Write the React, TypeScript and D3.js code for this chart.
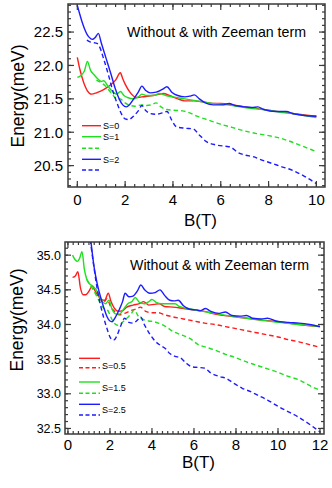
import React, { useRef, useEffect } from "react";
import * as d3 from "d3";

type Pt = [number, number];

// ---- top panel: B(T) vs Energy, S = 0, 1, 2 ----
const topS0: Pt[] = [
  [0, 22.12], [0.1, 21.95], [0.2, 21.82], [0.3, 21.71], [0.42, 21.62], [0.6, 21.57],
  [0.8, 21.59], [1.0, 21.62], [1.2, 21.66], [1.4, 21.71], [1.6, 21.78], [1.8, 21.89],
  [1.9, 21.8], [2.0, 21.72], [2.2, 21.6], [2.4, 21.53], [2.55, 21.52], [2.7, 21.53],
  [3.0, 21.54], [3.3, 21.56], [3.6, 21.58], [3.85, 21.55], [4.2, 21.5], [4.5, 21.47],
  [4.9, 21.47], [5.3, 21.45], [5.8, 21.43], [6.0, 21.43], [6.5, 21.41], [7, 21.38],
  [8, 21.33], [9, 21.28], [10, 21.24],
];
const topS1: Pt[] = [
  [0, 21.82], [0.15, 21.85], [0.3, 21.92], [0.42, 22.06], [0.55, 21.93], [0.7, 21.86],
  [0.85, 21.8], [1.0, 21.76], [1.1, 21.77], [1.3, 21.68], [1.5, 21.6], [1.65, 21.57],
  [1.8, 21.61], [1.95, 21.55], [2.1, 21.52], [2.35, 21.5], [2.55, 21.53], [2.7, 21.57],
  [2.9, 21.55], [3.2, 21.55], [3.45, 21.58], [3.7, 21.55], [4.0, 21.53], [4.5, 21.5],
  [5.0, 21.47], [5.5, 21.44], [6.0, 21.42], [6.5, 21.4], [7, 21.37], [7.5, 21.35],
  [8, 21.33], [8.5, 21.3], [9, 21.28], [9.5, 21.25], [10, 21.22],
];
const topS1Z: Pt[] = [
  [0.8, 21.78], [1.0, 21.74], [1.15, 21.7], [1.3, 21.64], [1.5, 21.55], [1.7, 21.49],
  [1.8, 21.5], [1.95, 21.45], [2.15, 21.41], [2.4, 21.39], [2.7, 21.41], [2.9, 21.4],
  [3.1, 21.41], [3.3, 21.44], [3.5, 21.38], [3.75, 21.34], [4.0, 21.33], [4.4, 21.32],
  [4.7, 21.29], [5.0, 21.24], [5.5, 21.18], [6.0, 21.12], [6.5, 21.07], [7, 21.02],
  [7.5, 20.98], [8, 20.95], [8.5, 20.91], [9, 20.85], [9.5, 20.78], [10, 20.71],
];
const topS2: Pt[] = [
  [0, 22.9], [0.1, 22.77], [0.2, 22.65], [0.3, 22.55], [0.4, 22.47], [0.5, 22.42],
  [0.62, 22.39], [0.75, 22.42], [0.88, 22.48], [1.0, 22.34], [1.2, 22.11], [1.4, 21.88],
  [1.6, 21.64], [1.75, 21.5], [1.9, 21.41], [2.05, 21.38], [2.2, 21.42], [2.4, 21.52],
  [2.55, 21.6], [2.7, 21.69], [2.85, 21.63], [3.05, 21.59], [3.3, 21.6], [3.55, 21.64],
  [3.75, 21.68], [3.95, 21.6], [4.2, 21.55], [4.5, 21.53], [4.7, 21.54], [4.9, 21.56],
  [5.1, 21.5], [5.35, 21.44], [5.7, 21.41], [6.1, 21.41], [6.35, 21.43], [6.6, 21.4],
  [7.0, 21.38], [7.3, 21.37], [7.55, 21.38], [7.8, 21.34], [8.3, 21.31], [8.75, 21.31],
  [9.0, 21.28], [9.5, 21.25], [10, 21.24],
];
const topS2Z: Pt[] = [
  [0.4, 22.38], [0.55, 22.35], [0.7, 22.34], [0.82, 22.33], [0.9, 22.3], [1.1, 22.1],
  [1.3, 21.86], [1.5, 21.6], [1.7, 21.4], [1.85, 21.27], [2.0, 21.2], [2.15, 21.19],
  [2.35, 21.24], [2.55, 21.32], [2.7, 21.4], [2.85, 21.33], [3.05, 21.28], [3.3, 21.27],
  [3.55, 21.29], [3.75, 21.31], [3.95, 21.18], [4.15, 21.08], [4.5, 21.06], [4.85, 21.05],
  [5.1, 20.96], [5.4, 20.86], [5.8, 20.81], [6.2, 20.79], [6.4, 20.78], [6.7, 20.7],
  [7.0, 20.66], [7.4, 20.63], [7.6, 20.6], [8.0, 20.55], [8.5, 20.49], [9.0, 20.43],
  [9.5, 20.34], [10, 20.23],
];

// ---- bottom panel: S = 0.5, 1.5, 2.5 ----
const botS05: Pt[] = [
  [0.22, 34.68], [0.35, 34.7], [0.47, 34.76], [0.6, 34.52], [0.72, 34.43], [0.85, 34.43],
  [1.0, 34.48], [1.15, 34.55], [1.3, 34.48], [1.45, 34.41], [1.6, 34.36], [1.75, 34.35],
  [1.92, 34.45], [2.05, 34.33], [2.2, 34.24], [2.4, 34.19], [2.6, 34.2], [2.8, 34.25],
  [3.1, 34.28], [3.4, 34.3], [3.6, 34.33], [3.85, 34.28], [4.1, 34.29], [4.35, 34.3],
  [4.6, 34.26], [5.0, 34.25], [5.5, 34.23], [6.0, 34.21], [6.5, 34.19], [7, 34.15],
  [8, 34.11], [9, 34.07], [10, 34.04], [11, 34.0], [12, 33.97],
];
const botS05Z: Pt[] = [
  [1.5, 34.39], [1.7, 34.32], [1.85, 34.37], [2.05, 34.25], [2.25, 34.18], [2.45, 34.14],
  [2.7, 34.16], [3.0, 34.2], [3.3, 34.23], [3.45, 34.25], [3.7, 34.19], [4.0, 34.17],
  [4.3, 34.17], [4.6, 34.14], [5.0, 34.11], [5.5, 34.08], [6, 34.05], [6.5, 34.02],
  [7, 34.0], [7.5, 33.97], [8, 33.94], [8.5, 33.91], [9, 33.88], [9.5, 33.85],
  [10, 33.82], [10.5, 33.78], [11, 33.75], [11.5, 33.71], [12, 33.67],
];
const botS15: Pt[] = [
  [0.22, 35.0], [0.35, 34.93], [0.45, 34.91], [0.55, 34.95], [0.67, 35.05], [0.78, 34.8],
  [0.9, 34.65], [1.05, 34.58], [1.2, 34.55], [1.35, 34.5], [1.5, 34.4], [1.65, 34.33],
  [1.8, 34.3], [1.95, 34.35], [2.1, 34.22], [2.3, 34.15], [2.45, 34.15], [2.65, 34.22],
  [2.85, 34.3], [3.05, 34.33], [3.2, 34.39], [3.4, 34.32], [3.65, 34.3], [3.85, 34.33],
  [4.0, 34.36], [4.2, 34.32], [4.45, 34.3], [4.8, 34.3], [5.1, 34.3], [5.3, 34.26],
  [5.7, 34.23], [6.2, 34.2], [7, 34.16], [8, 34.11], [9, 34.07], [10, 34.03],
  [11, 34.0], [12, 33.97],
];
const botS15Z: Pt[] = [
  [0.9, 34.65], [1.05, 34.57], [1.2, 34.5], [1.35, 34.42], [1.55, 34.3], [1.75, 34.22],
  [1.9, 34.2], [2.05, 34.1], [2.2, 34.02], [2.35, 33.99], [2.55, 34.02], [2.8, 34.09],
  [3.0, 34.15], [3.15, 34.21], [3.35, 34.12], [3.6, 34.07], [3.85, 34.05], [4.1, 34.04],
  [4.3, 34.02], [4.6, 33.98], [5.0, 33.9], [5.4, 33.85], [5.8, 33.8], [6.2, 33.71],
  [6.6, 33.67], [7.0, 33.63], [7.5, 33.57], [8, 33.52], [8.5, 33.46], [9, 33.41],
  [9.5, 33.36], [10, 33.31], [10.5, 33.25], [11, 33.2], [11.5, 33.12], [12, 33.05],
];
const botS25: Pt[] = [
  [0.95, 35.55], [1.1, 35.18], [1.25, 34.82], [1.4, 34.58], [1.55, 34.4], [1.7, 34.25],
  [1.85, 34.12], [2.0, 34.05], [2.1, 34.04], [2.25, 34.1], [2.45, 34.22], [2.6, 34.33],
  [2.72, 34.45], [2.9, 34.4], [3.1, 34.41], [3.3, 34.48], [3.47, 34.57], [3.65, 34.5],
  [3.9, 34.45], [4.15, 34.46], [4.38, 34.5], [4.6, 34.42], [4.85, 34.35], [5.05, 34.34],
  [5.25, 34.35], [5.5, 34.27], [5.8, 34.22], [6.1, 34.21], [6.3, 34.2], [6.55, 34.23],
  [6.8, 34.19], [7.2, 34.16], [7.5, 34.18], [7.8, 34.13], [8.2, 34.12], [8.5, 34.13],
  [8.8, 34.09], [9.2, 34.08], [9.5, 34.09], [9.9, 34.05], [10.5, 34.03], [11.0, 34.02],
  [11.5, 34.0], [12, 33.97],
];
const botS25Z: Pt[] = [
  [0.93, 35.55], [1.08, 35.18], [1.25, 34.8], [1.4, 34.5], [1.55, 34.28], [1.7, 34.1],
  [1.85, 33.95], [2.0, 33.82], [2.1, 33.78], [2.2, 33.78], [2.35, 33.85], [2.5, 33.97],
  [2.7, 34.09], [2.9, 34.03], [3.1, 34.02], [3.3, 34.06], [3.45, 34.11], [3.65, 33.99],
  [3.9, 33.86], [4.15, 33.76], [4.4, 33.7], [4.65, 33.65], [4.85, 33.58], [5.1, 33.54],
  [5.35, 33.52], [5.6, 33.45], [5.9, 33.39], [6.2, 33.38], [6.5, 33.37], [6.8, 33.3],
  [7.2, 33.25], [7.55, 33.22], [7.9, 33.15], [8.3, 33.08], [8.7, 33.03], [9.1, 32.97],
  [9.5, 32.91], [10, 32.82], [10.5, 32.74], [11, 32.66], [11.5, 32.56], [12, 32.45],
];

const topXTicks = [0, 2, 4, 6, 8, 10];
const topYTicks = [20.5, 21.0, 21.5, 22.0, 22.5];
const botXTicks = [0, 2, 4, 6, 8, 10, 12];
const botYTicks = [32.5, 33.0, 33.5, 34.0, 34.5, 35.0];

const topLegend = ["S=0", "S=1", "", "S=2", ""];
const botLegend = ["S=0.5", "", "S=1.5", "", "S=2.5", ""];

const RED = "#ff1c1c";
const GREEN = "#1ee01e";
const BLUE = "#1c1cff";
const FONT = "'Liberation Sans', Arial, sans-serif";

const Panel = ({ cfg }: { cfg: any }) => {
  const ref = useRef<SVGGElement>(null);

  useEffect(() => {
    const g = d3.select(ref.current);
    g.selectAll("*").remove();
    const { box } = cfg;

    const x = d3.scaleLinear().domain(cfg.xDomain).range([box.left, box.right]);
    const y = d3.scaleLinear().domain(cfg.yDomain).range([box.bottom, box.top]);

    const clipId = `clip-${cfg.id}`;
    g.append("clipPath")
      .attr("id", clipId)
      .append("rect")
      .attr("x", box.left)
      .attr("y", box.top)
      .attr("width", box.right - box.left)
      .attr("height", box.bottom - box.top);

    const line = d3
      .line<Pt>()
      .x((d) => x(d[0]))
      .y((d) => y(d[1]))
      .curve(d3.curveMonotoneX);

    const plot = g.append("g").attr("clip-path", `url(#${clipId})`);
    cfg.series.forEach((s: any) => {
      plot
        .append("path")
        .attr("d", line(s.data))
        .attr("fill", "none")
        .attr("stroke", s.color)
        .attr("stroke-width", 1.4)
        .attr("stroke-dasharray", s.dashed ? "4.5,3" : null);
    });

    // frame
    g.append("rect")
      .attr("x", box.left)
      .attr("y", box.top)
      .attr("width", box.right - box.left)
      .attr("height", box.bottom - box.top)
      .attr("fill", "none")
      .attr("stroke", "#3a3a3a")
      .attr("stroke-width", 1.5);

    // inward ticks on all four sides
    const ticks = g.append("g").attr("stroke", "#3a3a3a").attr("stroke-width", 1.2);
    const xMinor = d3.range(cfg.xMinor[0], cfg.xDomain[1], cfg.xMinor[1]);
    const yMinor = d3.range(cfg.yMinor[0], cfg.yDomain[1], cfg.yMinor[1]);
    const tickX = (v: number, len: number) => {
      if (x(v) <= box.left + 1 || x(v) >= box.right - 1) return;
      ticks.append("line").attr("x1", x(v)).attr("x2", x(v)).attr("y1", box.bottom).attr("y2", box.bottom - len);
      ticks.append("line").attr("x1", x(v)).attr("x2", x(v)).attr("y1", box.top).attr("y2", box.top + len);
    };
    const tickY = (v: number, len: number) => {
      if (y(v) <= box.top + 1 || y(v) >= box.bottom - 1) return;
      ticks.append("line").attr("y1", y(v)).attr("y2", y(v)).attr("x1", box.left).attr("x2", box.left + len);
      ticks.append("line").attr("y1", y(v)).attr("y2", y(v)).attr("x1", box.right).attr("x2", box.right - len);
    };
    xMinor.forEach((v) => tickX(v, 3));
    yMinor.forEach((v) => tickY(v, 3));
    cfg.xTicks.forEach((v: number) => tickX(v, 6));
    cfg.yTicks.forEach((v: number) => tickY(v, 6));

    // tick labels
    g.selectAll(".xl")
      .data(cfg.xTicks)
      .enter()
      .append("text")
      .attr("x", (d: any) => x(d))
      .attr("y", box.bottom + cfg.xLabelDy)
      .attr("text-anchor", "middle")
      .style("font-family", FONT)
      .style("font-size", cfg.xFont)
      .text((d: any) => d3.format("d")(d));
    g.selectAll(".yl")
      .data(cfg.yTicks)
      .enter()
      .append("text")
      .attr("x", box.left - cfg.yLabelDx)
      .attr("y", (d: any) => y(d))
      .attr("dy", "0.36em")
      .attr("text-anchor", "end")
      .style("font-family", FONT)
      .style("font-size", cfg.yFont)
      .text((d: any) => d3.format(".1f")(d));

    // axis titles
    g.append("text")
      .attr("transform", `translate(${cfg.yTitle[0]},${cfg.yTitle[1]}) rotate(-90)`)
      .attr("text-anchor", "middle")
      .attr("dy", "0.36em")
      .style("font-family", FONT)
      .style("font-size", 17.5)
      .text("Energy(meV)");
    g.append("text")
      .attr("x", (box.left + box.right) / 2 + 4)
      .attr("y", box.bottom + cfg.xTitleDy)
      .attr("text-anchor", "middle")
      .style("font-family", FONT)
      .style("font-size", 17)
      .text("B(T)");

    g.append("text")
      .attr("x", cfg.title[0])
      .attr("y", cfg.title[1])
      .style("font-family", FONT)
      .style("font-size", 14.2)
      .text("Without & with Zeeman term");

    // legend
    const lg = g.append("g");
    cfg.legend.forEach((e: any, i: number) => {
      const ly = cfg.legendY[i];
      lg.append("line")
        .attr("x1", cfg.legendX[0])
        .attr("x2", cfg.legendX[1])
        .attr("y1", ly)
        .attr("y2", ly)
        .attr("stroke", e.color)
        .attr("stroke-width", 1.4)
        .attr("stroke-dasharray", e.dashed ? "4,2.5" : null);
    });
    cfg.legendText.forEach((t: any) => {
      lg.append("text")
        .attr("x", cfg.legendX[1] + 2)
        .attr("y", t.y)
        .attr("dy", "0.36em")
        .style("font-family", FONT)
        .style("font-size", 9)
        .text(t.label);
    });
  }, [cfg]);

  return <g ref={ref}></g>;
};

const topCfg = {
  id: "top",
  box: { left: 68, top: 4, right: 325, bottom: 187 },
  xDomain: [-0.39, 10.36],
  yDomain: [20.18, 22.92],
  xTicks: topXTicks,
  yTicks: topYTicks,
  xMinor: [0, 0.4],
  yMinor: [20.2, 0.1],
  xFont: 15,
  yFont: 15,
  xLabelDy: 18,
  yLabelDx: 5,
  xTitleDy: 39,
  yTitle: [18, 96],
  title: [127, 37],
  series: [
    { data: topS0, color: RED },
    { data: topS1, color: GREEN },
    { data: topS1Z, color: GREEN, dashed: true },
    { data: topS2, color: BLUE },
    { data: topS2Z, color: BLUE, dashed: true },
  ],
  legend: [
    { color: RED }, { color: GREEN }, { color: GREEN, dashed: true },
    { color: BLUE }, { color: BLUE, dashed: true },
  ],
  legendX: [82, 101],
  legendY: [125.7, 136.7, 148.3, 159.3, 170],
  legendText: [
    { label: topLegend[0], y: 125.7 },
    { label: topLegend[1], y: 137 },
    { label: topLegend[3], y: 159.3 },
  ],
};

const botCfg = {
  id: "bot",
  box: { left: 65, top: 242, right: 324, bottom: 434 },
  xDomain: [-0.14, 12.19],
  yDomain: [32.42, 35.19],
  xTicks: botXTicks,
  yTicks: botYTicks,
  xMinor: [0, 0.25],
  yMinor: [32.5, 0.1],
  xFont: 15,
  yFont: 12.5,
  xLabelDy: 16,
  yLabelDx: 4,
  xTitleDy: 34,
  yTitle: [17, 320],
  title: [130, 270],
  series: [
    { data: botS05, color: RED },
    { data: botS05Z, color: RED, dashed: true },
    { data: botS15, color: GREEN },
    { data: botS15Z, color: GREEN, dashed: true },
    { data: botS25, color: BLUE },
    { data: botS25Z, color: BLUE, dashed: true },
  ],
  legend: [
    { color: RED }, { color: RED, dashed: true },
    { color: GREEN }, { color: GREEN, dashed: true },
    { color: BLUE }, { color: BLUE, dashed: true },
  ],
  legendX: [79, 100],
  legendY: [358.3, 367.7, 382, 393.3, 404.3, 415],
  legendText: [
    { label: botLegend[0], y: 366 },
    { label: botLegend[2], y: 388 },
    { label: botLegend[4], y: 410 },
  ],
};

export default function App() {
  return (
    <svg
      width={332}
      height={488}
      style={{ position: "absolute", left: 0, top: 0, background: "#fff" }}
    >
      <Panel cfg={topCfg} />
      <Panel cfg={botCfg} />
    </svg>
  );
}
